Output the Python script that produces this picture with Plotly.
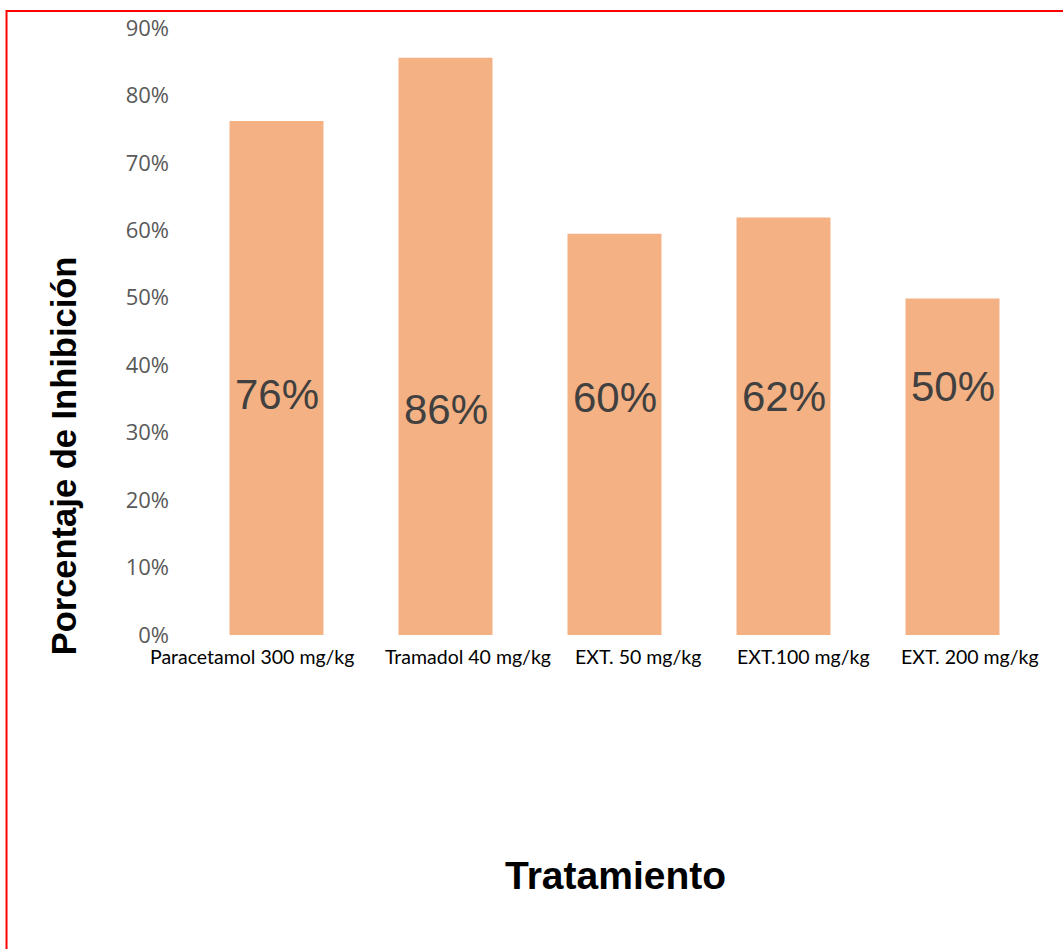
import plotly.graph_objects as go

categories = ["Paracetamol 300 mg/kg", "Tramadol 40 mg/kg", "EXT. 50 mg/kg", "EXT.100 mg/kg", "EXT. 200 mg/kg"]
values = [0.762, 0.856, 0.595, 0.619, 0.499]
labels = ["76%", "86%", "60%", "62%", "50%"]
y_ticks = [0, 0.1, 0.2, 0.3, 0.4, 0.5, 0.6, 0.7, 0.8, 0.9]
y_tick_text = ["0%", "10%", "20%", "30%", "40%", "50%", "60%", "70%", "80%", "90%"]
# label vertical placement (style), in axis units
label_y = [0.357, 0.335, 0.352, 0.354, 0.368]
# horizontal shift of category labels (style), pixels
cat_shift = [-25, 22, 23, 20, 17]

fig = go.Figure()
fig.add_trace(go.Bar(
    x=categories, y=values,
    marker=dict(color="#F4B183", line=dict(width=0)),
    hoverinfo="skip",
))

for c, lab, ly in zip(categories, labels, label_y):
    fig.add_annotation(x=c, y=ly, xref="x", yref="y", text=lab, showarrow=False,
                       yanchor="middle", xanchor="center",
                       font=dict(family="Liberation Sans, Arial", size=42, color="#404040"))

# category labels
for c, dx in zip(categories, cat_shift):
    fig.add_annotation(x=c, y=-0.036, xref="x", yref="paper", text=c, showarrow=False,
                       xanchor="center", yanchor="middle", xshift=dx,
                       font=dict(family="Lato, Open Sans", size=19.5, color="#000000"))

# axis titles
fig.add_annotation(x=-0.151, y=0.295, xref="paper", yref="paper", text="<b>Porcentaje de Inhibición</b>",
                   showarrow=False, textangle=-90, xanchor="center", yanchor="middle",
                   font=dict(family="Liberation Sans, Arial", size=34.5, color="#000000"))
fig.add_annotation(x=0.501, y=-0.396, xref="paper", yref="paper", text="<b>Tratamiento</b>",
                   showarrow=False, xanchor="center", yanchor="middle",
                   font=dict(family="Liberation Sans, Arial", size=39, color="#000000"))

# red frame
fig.add_shape(type="rect", xref="paper", yref="paper", x0=-0.2195, x1=2, y0=-2, y1=1.028,
              line=dict(color="#FF0000", width=2), fillcolor="rgba(0,0,0,0)", layer="above")

fig.update_layout(
    width=1063, height=949,
    margin=dict(l=192, r=26, t=28, b=314, pad=0, autoexpand=False),
    paper_bgcolor="white", plot_bgcolor="white",
    bargap=0.444,
    showlegend=False,
    xaxis=dict(showgrid=False, showline=False, zeroline=False, ticks="",
               showticklabels=False, automargin=False,
               type="category", categoryorder="array", categoryarray=categories,
               range=[-0.5, len(categories) - 0.5]),
    yaxis=dict(range=[0, 0.9], tickvals=y_ticks, ticktext=y_tick_text,
               showgrid=False, showline=False, zeroline=False, ticks="",
               tickfont=dict(family="Open Sans, DejaVu Sans", size=22, color="#595959"),
               ticklabelstandoff=22, automargin=False),
)

fig.write_html("out.html")
